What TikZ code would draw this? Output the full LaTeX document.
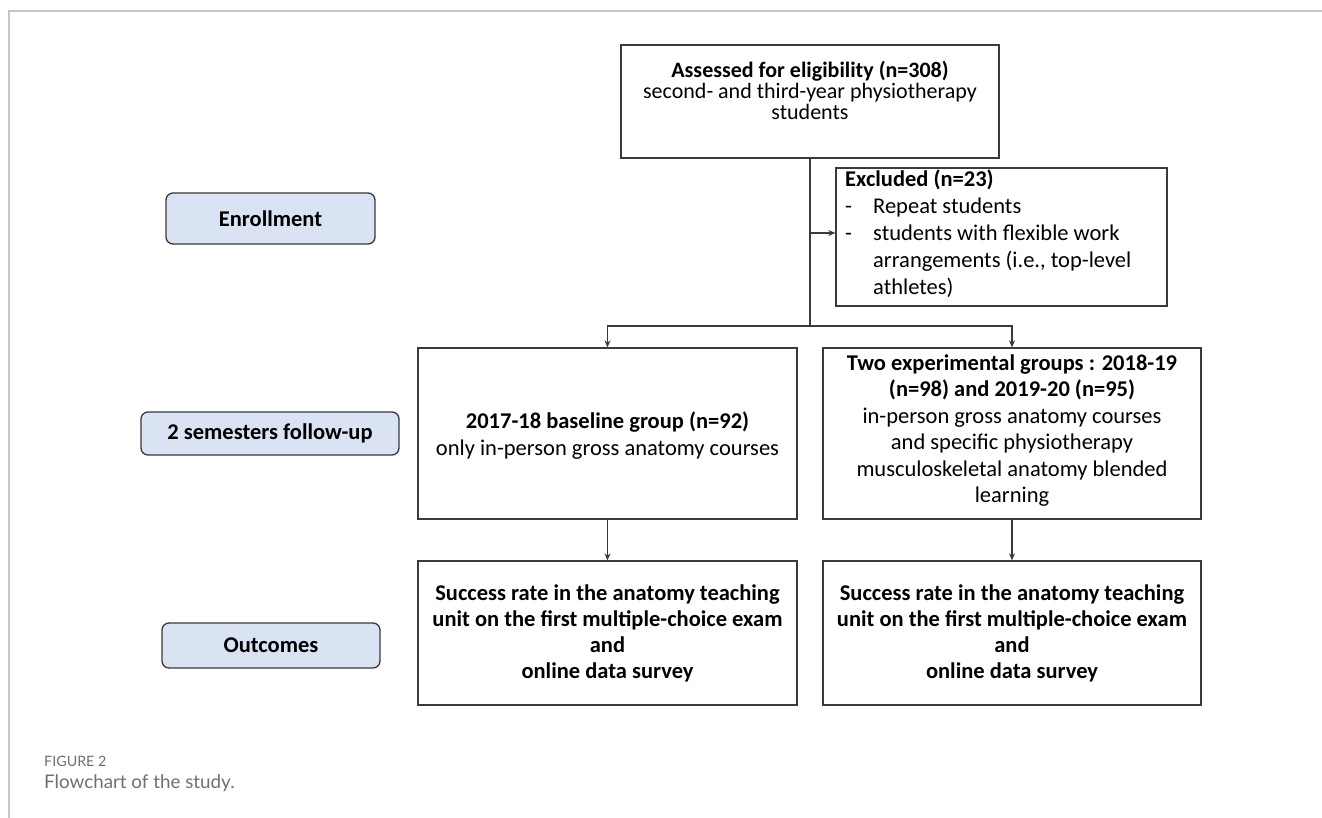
\documentclass[tikz,border=0pt]{standalone}
\usepackage{fontspec}
\setmainfont{Carlito}
\newfontfamily\capfont{Lato}
\usetikzlibrary{arrows.meta}
\definecolor{labfill}{HTML}{DAE3F3}
\definecolor{edge}{HTML}{3A3A3A}
\definecolor{frame}{HTML}{C6C6C6}
\definecolor{captxt}{HTML}{707070}
\tikzset{
  box/.style={draw=edge, line width=1.3pt, fill=white, inner sep=0pt},
  lab/.style={draw=edge, line width=1.3pt, fill=labfill, rounded corners=7pt, inner sep=0pt, font=\fontsize{22.5}{26}\selectfont\bfseries},
  btxt/.style={align=center, inner sep=0pt, font=\fontsize{22.5}{26.5}\selectfont},
  conn/.style={draw=edge, line width=1.2pt},
  arr/.style={conn, -{Stealth[length=7pt, width=6pt]}},
}
\begin{document}
\begin{tikzpicture}[x=1pt, y=-1pt]
\useasboundingbox (0,0) rectangle (1322,818);
\fill[white] (0,0) rectangle (1322,818);
\draw[frame, line width=1.6pt] (9,818) -- (9,11) -- (1322,11);

% side labels
\node[lab, minimum width=209pt, minimum height=51pt] (enr) at (270.5,218.5) {Enrollment};
\node[lab, minimum width=258pt, minimum height=43pt] (sem) at (270,433.5) {2 semesters follow-up};
\node[lab, minimum width=218pt, minimum height=45pt] (out) at (271,645.5) {Outcomes};

% top box
\node[box, minimum width=378pt, minimum height=113pt] (assess) at (810,101.5) {};
\node[btxt, font=\fontsize{22}{21}\selectfont] (assessT) at (810,90) {\textbf{Assessed for eligibility (n=308)}\\second- and third-year physiotherapy\\students};

% excluded
\node[box, minimum width=331pt, minimum height=138pt] (excl) at (1001.5,237) {};
\node[align=left, inner sep=0pt, anchor=north west, font=\fontsize{22.5}{27}\selectfont] (exclT) at (845,170)
  {\textbf{Excluded (n=23)}\\
   \makebox[28pt][l]{-}Repeat students\\
   \makebox[28pt][l]{-}students with flexible work\\
   \hspace*{28pt}arrangements (i.e., top-level\\
   \hspace*{28pt}athletes)};

% middle boxes
\node[box, minimum width=379pt, minimum height=171pt] (base) at (607.5,433.5) {};
\node[btxt] (baseT) at (607.5,435.5) {\textbf{2017-18 baseline group (n=92)}\\only in-person gross anatomy courses};
\node[box, minimum width=378pt, minimum height=171pt] (expt) at (1012,433.5) {};
\node[btxt] (exptT) at (1012,430.5) {\textbf{Two experimental groups : 2018-19}\\\textbf{(n=98) and 2019-20 (n=95)}\\in-person gross anatomy courses\\and specific physiotherapy\\musculoskeletal anatomy blended\\learning};

% outcome boxes
\node[box, minimum width=379pt, minimum height=144pt] (outL) at (607.5,633) {};
\node[btxt, font=\fontsize{22.5}{26}\selectfont\bfseries] (outLT) at (607.5,633) {Success rate in the anatomy teaching\\unit on the first multiple-choice exam\\and\\online data survey};
\node[box, minimum width=378pt, minimum height=144pt] (outR) at (1012,633) {};
\node[btxt, font=\fontsize{22.5}{26}\selectfont\bfseries] (outRT) at (1012,633) {Success rate in the anatomy teaching\\unit on the first multiple-choice exam\\and\\online data survey};

% connectors
\coordinate (split) at (assess.south |- 0,326);
\coordinate (exclIn) at (assess.south |- 0,233);
\draw[conn] (assess.south) -- (split);
\draw[arr] (exclIn) -- (exclIn -| excl.west);
\draw[arr] (split) -| (base.north);
\draw[arr] (split) -| (expt.north);
\draw[arr] (base.south) -- (outL.north);
\draw[arr] (expt.south) -- (outR.north);

% caption
\node[anchor=west, inner sep=0pt, text=captxt, font=\capfont\fontsize{14.3}{16}\selectfont] (capA) at (44,761) {FIGURE 2};
\node[anchor=west, inner sep=0pt, text=captxt, font=\capfont\fontsize{18.8}{22}\selectfont] (capB) at (44,783) {Flowchart of the study.};
\end{tikzpicture}
\end{document}
